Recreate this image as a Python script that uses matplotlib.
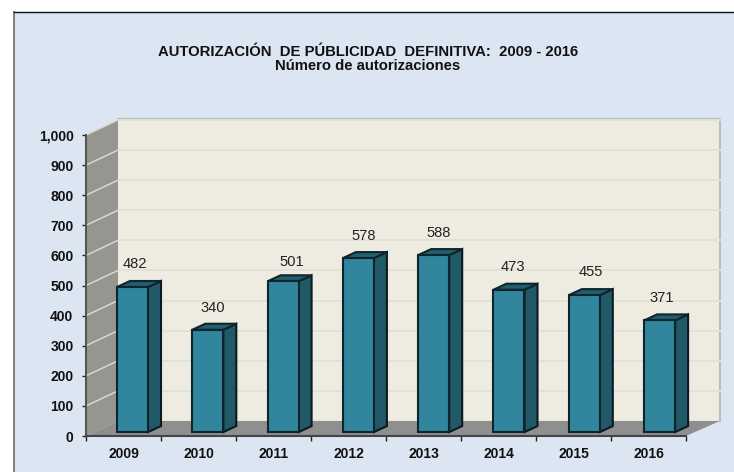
import matplotlib
matplotlib.use('Agg')
import matplotlib.pyplot as plt
from matplotlib.patches import Polygon, Rectangle

# Chart data
years = ['2009', '2010', '2011', '2012', '2013', '2014', '2015', '2016']
values = [482, 340, 501, 578, 588, 473, 455, 371]
yticks = [0, 100, 200, 300, 400, 500, 600, 700, 800, 900, 1000]
title1 = 'AUTORIZACIÓN  DE PÚBLICIDAD  DEFINITIVA:  2009 - 2016'
title2 = 'Número de autorizaciones'

# value label placement, pixels from the bar's top centre
label_dx = [2, 5, 8.5, 5.5, 4.5, 4, 7, 2.5]
label_dy = [23, 22, 19, 22, 22, 23, 23, 22]

plt.rcParams['font.family'] = ['Liberation Sans', 'DejaVu Sans']

W, H = 734, 472
fig = plt.figure(figsize=(W / 100, H / 100), dpi=100, facecolor='white')

# Chart panel behind everything
bg = fig.add_axes([0, 0, 1, 1], zorder=0)
bg.set_xlim(0, W)
bg.set_ylim(H, 0)
bg.axis('off')
bg.add_patch(Rectangle((14, 11.5), W - 14, H - 11.5, fc='#DCE6F2', ec='none'))
bg.plot([14, 14], [11.5, H], color='#808080', lw=1.4)
bg.plot([14, W], [11.5, 11.5], color='#111111', lw=1.0)

# Front plane of the fake 3D box: x in categories, y in values
ax = fig.add_axes([86 / W, (H - 436) / H, 600 / W, 301 / H], zorder=1)
ax.set_xlim(0, 8)
ax.set_ylim(0, 1000)
ax.patch.set_visible(False)
for s in ['top', 'right']:
    ax.spines[s].set_visible(False)
ax.spines['left'].set_color('#555555')
ax.spines['left'].set_linewidth(1.5)
ax.spines['bottom'].set_color('#444444')
ax.spines['bottom'].set_linewidth(1.5)

depth_x = 32 / 75
depth_r = 34 / 75
depth_y = 50.0

# back wall, left wall, floor
ax.add_patch(Polygon([(depth_x, depth_y), (8 + depth_r, depth_y), (8 + depth_r, 1000 + depth_y),
                      (depth_x, 1000 + depth_y)], fc='#EEECE1', ec='none', clip_on=False, zorder=1))
ax.plot([depth_x, 8 + depth_r, 8 + depth_r], [1000 + depth_y + 3, 1000 + depth_y + 3, depth_y],
        color='#BDBDBD', lw=1.5, clip_on=False, zorder=1.2)
ax.add_patch(Polygon([(0, 0), (depth_x, depth_y), (depth_x, 1000 + depth_y), (0, 1000)],
                     fc='#969690', ec='none', clip_on=False, zorder=1.5))
ax.add_patch(Polygon([(0, 0), (8, 0), (8 + depth_r, depth_y), (depth_x, depth_y)],
                     fc='#8F8F8F', ec='none', clip_on=False, zorder=1.5))

for v in yticks[1:]:
    ax.plot([depth_x, 8 + depth_r], [v + depth_y, v + depth_y], color='#E2E1D9', lw=1.4,
            clip_on=False, zorder=1.3)
    ax.plot([0, depth_x], [v, v + depth_y], color='#D8D8D4', lw=1.1, clip_on=False, zorder=1.6)

# Bars
bar_off = 31 / 75
bar_step = 75.3 / 75
bar_w = 31 / 75
bar_dx = 13 / 75
bar_dy = 20.0
bar_base = 13.0
xs = [i * bar_step + bar_off for i in range(len(values))]
ax.bar(xs, values, bottom=bar_base, width=bar_w, align='edge', color='#31859C',
       edgecolor='#0F252D', linewidth=1.5, zorder=4, clip_on=False)
for x, v, dx, dy in zip(xs, values, label_dx, label_dy):
    top = v + bar_base
    r = x + bar_w
    ax.add_patch(Polygon([(r, bar_base), (r + bar_dx, bar_base + bar_dy), (r + bar_dx, top + bar_dy), (r, top)],
                         fc='#215968', ec='#0B1A20', lw=1.5, zorder=3, clip_on=False))
    ax.add_patch(Polygon([(x, top), (x + bar_dx, top + bar_dy), (r + bar_dx, top + bar_dy), (r, top)],
                         fc='#215E6E', ec='#0F252D', lw=1.5, zorder=3, clip_on=False))
    ax.annotate(str(v), (x + bar_w / 2, top), xytext=(dx, dy), textcoords='offset pixels',
                ha='center', va='center', fontsize=10.6, color='#222222', zorder=5)

ax.set_xticks(range(9))
ax.set_xticklabels([])
ax.tick_params(axis='x', length=3.5, width=1, direction='out', color='#222222')
for i, lab in enumerate(years):
    ax.annotate(lab, (i + 0.5, 0), xytext=(0, -18), textcoords='offset pixels', ha='center', va='center',
                fontsize=10, fontweight='bold', color='#111111', annotation_clip=False)
ax.set_yticks(yticks)
ax.set_yticklabels([f'{v:,}' for v in yticks], fontsize=10, fontweight='bold', color='#111111')
ax.tick_params(axis='y', length=3, width=1, pad=6, color='#222222')

bg.text(368, 52, title1, ha='center', va='center', fontsize=10.7, fontweight='bold', color='#111111')
bg.text(368, 66.5, title2, ha='center', va='center', fontsize=10.7, fontweight='bold', color='#111111')

fig.savefig('out.png', dpi=100, facecolor='white')
